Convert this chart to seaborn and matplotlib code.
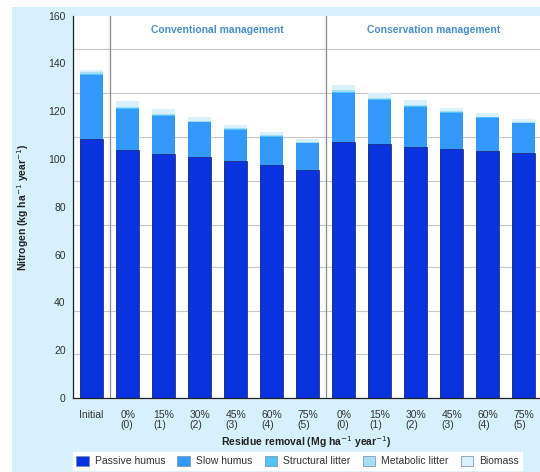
import matplotlib
matplotlib.use("Agg")
import matplotlib.pyplot as plt
from matplotlib.patches import Patch, Rectangle
import numpy as np
import pandas as pd
import seaborn as sns

# ---- data ----
bar_ids = ["init", "c0", "c15", "c30", "c45", "c60", "c75",
           "v0", "v15", "v30", "v45", "v60", "v75"]
tick_labels = ["Initial", "0%\n(0)", "15%\n(1)", "30%\n(2)", "45%\n(3)", "60%\n(4)", "75%\n(5)",
               "0%\n(0)", "15%\n(1)", "30%\n(2)", "45%\n(3)", "60%\n(4)", "75%\n(5)"]
passive_humus = [108.4, 103.6, 102.1, 100.7, 99.2, 97.4, 95.6, 107.3, 106.2, 105.1, 104.4, 103.4, 102.6]
slow_humus = [26.8, 17.4, 16.1, 14.7, 13.0, 12.0, 11.0, 20.5, 18.5, 16.8, 15.0, 13.7, 12.4]
structural_litter = [0.4, 0.3, 0.3, 0.3, 0.3, 0.3, 0.3, 0.4, 0.4, 0.4, 0.3, 0.3, 0.3]
metabolic_litter = [0.8, 0.6, 0.5, 0.4, 0.4, 0.4, 0.3, 0.6, 0.5, 0.5, 0.4, 0.4, 0.3]
biomass = [0.9, 2.2, 1.8, 1.4, 1.2, 1.1, 1.1, 2.2, 1.9, 1.8, 1.4, 1.4, 1.1]
series_names = ["Passive humus", "Slow humus", "Structural litter", "Metabolic litter", "Biomass"]
group_titles = ["Conventional management", "Conservation management"]
yticks = [0, 20, 40, 60, 80, 100, 120, 140, 160]
grid_levels = [18.3, 36.5, 54.7, 72.6, 90.8, 109.2, 127.6, 146.0]

colors = ["#0a33e0", "#3399fb", "#50c4f6", "#a6def7", "#d9f1fb"]

# ---- style ----
sns.set_style("white")
plt.rcParams["font.family"] = ["Liberation Sans", "DejaVu Sans"]

df = pd.DataFrame({
    "bar": bar_ids,
    "Passive humus": passive_humus,
    "Slow humus": slow_humus,
    "Structural litter": structural_litter,
    "Metabolic litter": metabolic_litter,
    "Biomass": biomass,
})
cum = df[series_names].cumsum(axis=1)

fig = plt.figure(figsize=(5.4, 4.72), dpi=100, facecolor="white")
fig.patches.append(Rectangle((12 / 540, 0), 1, 1 - 7 / 472, transform=fig.transFigure,
                             facecolor="#d6f1fb", edgecolor="none", zorder=-10))
ax = fig.add_axes([73.3 / 540, 1 - 398 / 472, 1 - 73.3 / 540, (398 - 15.7) / 472])
ax.set_facecolor("white")

for g in grid_levels:
    ax.axhline(g, color="#c8c8c8", lw=0.8, zorder=0)

for i in range(len(series_names) - 1, -1, -1):
    name = series_names[i]
    sns.barplot(x=df["bar"], y=cum[name], color=colors[i], saturation=1, width=0.65,
                ax=ax, zorder=2,
                edgecolor="#1b1f6a" if i == 0 else "none",
                linewidth=0.5 if i == 0 else 0)

ax.axvline(0.5, color="#8a8a8a", lw=0.9, zorder=3)
ax.axvline(6.5, color="#8a8a8a", lw=0.9, zorder=3)

ax.text(3.5, 154, group_titles[0], ha="center", va="center", fontsize=7.5,
        fontweight="bold", color="#4a8fc9")
ax.text(9.5, 154, group_titles[1], ha="center", va="center", fontsize=7.5,
        fontweight="bold", color="#4a8fc9")

ax.set_xlim(-0.51, 12.45)
ax.set_ylim(0, 160)
ax.set_yticks(yticks)
ax.set_yticklabels([str(v) for v in yticks], fontsize=7.5, color="#333333")
ax.set_xticks(range(len(tick_labels)))
ax.set_xticklabels(tick_labels, fontsize=7.5, color="#333333", linespacing=1.0,
                   multialignment="left")
ax.tick_params(axis="x", which="major", length=0, pad=9)
ax.set_xticks(np.arange(0.5, 12, 1), minor=True)
ax.tick_params(axis="x", which="minor", length=3, direction="out", color="#333333", width=0.8)
ax.tick_params(axis="y", length=3.5, direction="out", color="#333333", width=0.8, pad=2)

for s in ["top", "right"]:
    ax.spines[s].set_visible(False)
for s in ["left", "bottom"]:
    ax.spines[s].set_color("#222222")
    ax.spines[s].set_linewidth(0.9)

ax.set_xlabel("Residue removal (Mg ha$^{-1}$ year$^{-1}$)", fontsize=7.5, fontweight="bold",
              color="#222222", labelpad=3)
ax.set_ylabel("Nitrogen (kg ha$^{-1}$ year$^{-1}$)", fontsize=7.5, fontweight="bold",
              color="#222222", labelpad=12)

handles = [Patch(facecolor=colors[i], edgecolor="#7a8aa0", linewidth=0.5, label=series_names[i])
           for i in range(len(series_names))]
fig.legend(handles=handles, loc="center left", bbox_to_anchor=(73 / 540, 1 - 461 / 472), ncol=5,
           fontsize=7.5, frameon=True, fancybox=False, framealpha=1, edgecolor="white",
           facecolor="white", handlelength=1.2, handleheight=1.2, columnspacing=1.15,
           handletextpad=0.6, borderpad=0.3, borderaxespad=0, labelcolor="#333333")

fig.savefig("out.png", dpi=100, facecolor=fig.get_facecolor())
